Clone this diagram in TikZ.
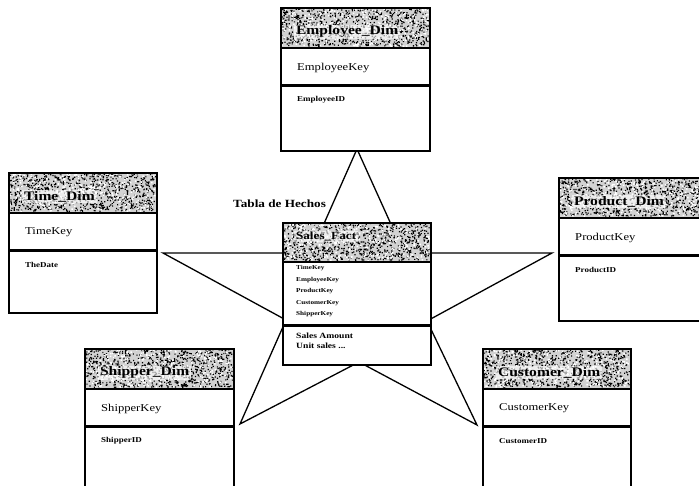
\documentclass[tikz,border=0pt]{standalone}
\usepackage{fontspec}
\setmainfont{Liberation Serif}
\begin{document}
\begin{tikzpicture}[x=1pt,y=-1pt,
  starline/.style={draw=black, line width=1.3pt, line join=miter},
  hdrbox/.style={fill=gray!35, draw=none, inner sep=0pt, anchor=north west},
  rowbox/.style={fill=white, draw=black, line width=1.2pt, inner sep=0pt, anchor=north west},
  frame/.style={draw=black, line width=1.5pt},
  ttl/.style={font=\fontsize{13}{13}\selectfont\bfseries, inner xsep=1.5pt, inner ysep=1pt,
    fill=white, fill opacity=0.6, text opacity=1, anchor=west, xscale=1.2},
  keytxt/.style={font=\fontsize{10.5}{10.5}\selectfont, inner sep=0pt, anchor=west, xscale=1.2},
  idtxt/.style={font=\fontsize{7.5}{7.5}\selectfont\bfseries, inner sep=0pt, anchor=west, xscale=1.2},
  facttxt/.style={font=\fontsize{6}{6}\selectfont\bfseries, inner sep=0pt, anchor=west, xscale=1.2},
  meastxt/.style={font=\fontsize{8}{8}\selectfont\bfseries, inner sep=0pt, anchor=west, xscale=1.2},
  lbl/.style={font=\fontsize{11}{11}\selectfont\bfseries, inner sep=0pt, anchor=west, xscale=1.2}
]
\useasboundingbox (0,0) rectangle (699,486);
\clip (0,0) rectangle (699,486);
\pgfmathsetseed{4711}

% speckled title band: #1 x, #2 y, #3 width, #4 height
\newcommand\speckle[4]{%
  \fill[black] \foreach \s in {1,...,900}{ ({#1+rnd*(#3-1.2)},{#2+rnd*(#4-1.2)}) rectangle ++(1.2,1.2) };
  \fill[white] \foreach \s in {1,...,260}{ ({#1+rnd*(#3-1.5)},{#2+rnd*(#4-1.5)}) rectangle ++(1.5,1.5) };
}

% dimension table: #1 name, #2 x, #3 y, #4 width, #5 total height, #6 title, #7 key, #8 id
\newcommand\dimtable[8]{%
  \node[hdrbox, minimum width=#4pt, minimum height=39pt] (#1-h) at (#2,#3) {};
  \speckle{#2}{#3}{#4}{39}
  \node[rowbox, minimum width=#4pt, minimum height=37pt] (#1-k) at (#1-h.south west) {};
  \pgfmathsetmacro\idh{#5-76}
  \node[rowbox, minimum width=#4pt, minimum height=\idh pt] (#1-i) at (#1-k.south west) {};
  \node[ttl] (#1-t) at ([xshift=13pt,yshift=-4pt]#1-h.west) {#6};
  \node[keytxt] (#1-kt) at ([xshift=16pt,yshift=-1pt]#1-k.west) {#7};
  \node[idtxt] (#1-it) at ([xshift=16pt,yshift=-14pt]#1-i.north west) {#8};
  \draw[frame] (#1-h.north west) rectangle (#1-i.south east);
}

% five-pointed star behind the tables
\coordinate (sT)   at (357,149);
\coordinate (sRi)  at (404,253);
\coordinate (sR)   at (552,253);
\coordinate (sLRi) at (427,321);
\coordinate (sLR)  at (477,425);
\coordinate (sB)   at (359,362);
\coordinate (sLL)  at (240,424);
\coordinate (sLLi) at (286,320);
\coordinate (sL)   at (163,253);
\coordinate (sULi) at (311,253);
\draw[starline] (sT) -- (sRi) -- (sR) -- (sLRi) -- (sLR) -- (sB) -- (sLL)
  -- (sLLi) -- (sL) -- (sULi) -- cycle;

% dimension tables
\dimtable{emp}{281}{8}{148}{140}{Employee\_Dim}{EmployeeKey}{EmployeeID}
\dimtable{time}{9}{173}{147}{137}{Time\_Dim}{TimeKey}{TheDate}
\dimtable{prod}{559}{178}{150}{140}{Product\_Dim}{ProductKey}{ProductID}
\dimtable{ship}{85}{349}{148}{150}{Shipper\_Dim}{ShipperKey}{ShipperID}
\dimtable{cust}{483}{349}{147}{150}{Customer\_Dim}{CustomerKey}{CustomerID}

% fact table in the centre
\node[hdrbox, minimum width=147pt, minimum height=38pt] (fact-h) at (283,223) {};
\speckle{283}{223}{147}{38}
\node[rowbox, minimum width=147pt, minimum height=63pt] (fact-k) at (fact-h.south west) {};
\node[rowbox, minimum width=147pt, minimum height=38pt] (fact-m) at (fact-k.south west) {};
\node[ttl, font=\fontsize{11}{11}\selectfont\bfseries] (fact-t) at ([xshift=11pt,yshift=6pt]fact-h.west) {Sales\_Fact};
\node[facttxt] (fk1) at ([xshift=13pt,yshift=-7pt]fact-k.north west) {TimeKey};
\node[facttxt] (fk2) at ([xshift=13pt,yshift=-18.5pt]fact-k.north west) {EmployeeKey};
\node[facttxt] (fk3) at ([xshift=13pt,yshift=-30pt]fact-k.north west) {ProductKey};
\node[facttxt] (fk4) at ([xshift=13pt,yshift=-41.5pt]fact-k.north west) {CustomerKey};
\node[facttxt] (fk5) at ([xshift=13pt,yshift=-53pt]fact-k.north west) {ShipperKey};
\node[meastxt] (fm1) at ([xshift=13pt,yshift=-10pt]fact-m.north west) {Sales Amount};
\node[meastxt] (fm2) at ([xshift=13pt,yshift=-20pt]fact-m.north west) {Unit sales ...};
\draw[frame] (fact-h.north west) rectangle (fact-m.south east);

% caption of the fact table
\node[lbl] (lab) at (233,204) {Tabla de Hechos};
\end{tikzpicture}
\end{document}
